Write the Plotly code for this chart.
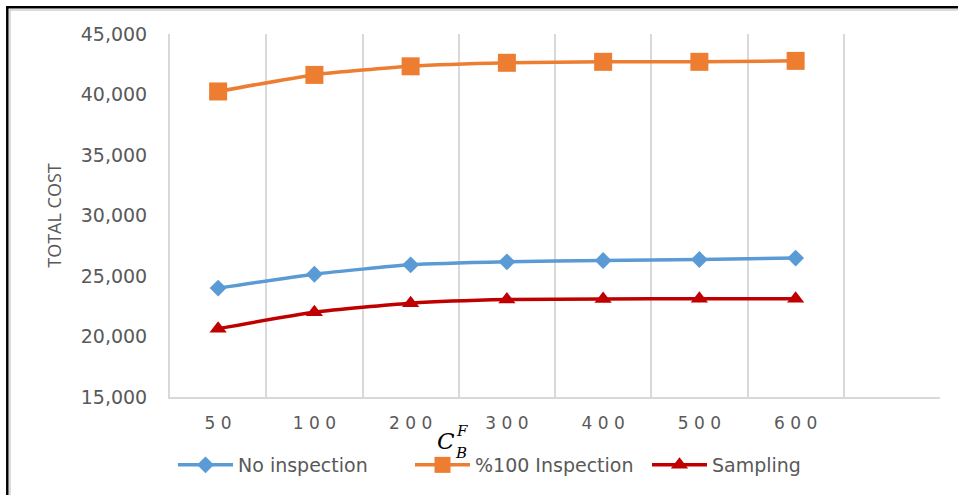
import plotly.graph_objects as go

# Unit failure cost C_B^F on the horizontal axis
cf_values = [50, 100, 200, 300, 400, 500, 600]

# Total cost for each inspection policy
no_inspection = [24000, 25150, 25920, 26170, 26280, 26360, 26480]
full_inspection = [40250, 41620, 42330, 42620, 42700, 42700, 42780]
sampling = [20650, 22000, 22750, 23050, 23100, 23130, 23130]

y_ticks = [15000, 20000, 25000, 30000, 35000, 40000, 45000]

positions = list(range(len(cf_values)))
n_slots = len(cf_values) + 1          # one spare empty slot on the right
tick_text = [" ".join(str(v)) for v in cf_values]

W, H = 958, 495
L, R, T, B = 170, 18, 34, 98
pw, ph = W - L - R, H - T - B


def px_x(px):
    return (px - L) / pw


def px_y(py):
    return (H - B - py) / ph


grey_text = "#595959"
grid = "#d9d9d9"

fig = go.Figure()

series = [
    ("No inspection", no_inspection, "#5B9BD5", "diamond", 13),
    ("%100 Inspection", full_inspection, "#ED7D31", "square", 18),
    ("Sampling", sampling, "#C00000", "triangle-up", 15),
]
for name, vals, color, symbol, size in series:
    fig.add_trace(go.Scatter(
        x=positions, y=vals, name=name, mode="lines+markers",
        line=dict(color=color, width=3.5, shape="spline", smoothing=0.6),
        marker=dict(symbol=symbol, size=size, color=color),
    ))

fig.update_layout(
    width=W, height=H,
    margin=dict(l=L, r=R, t=T, b=B, autoexpand=False),
    paper_bgcolor="white", plot_bgcolor="white",
    showlegend=True,
    legend=dict(
        orientation="h", x=px_x(173), xanchor="left",
        y=px_y(465), yanchor="middle",
        font=dict(family="DejaVu Sans", size=19, color=grey_text),
        itemwidth=55, entrywidth=167, entrywidthmode="pixels",
        tracegroupgap=0,
    ),
    xaxis=dict(
        range=[-0.5, n_slots - 0.5],
        tickmode="array", tickvals=positions, ticktext=tick_text,
        tickfont=dict(family="DejaVu Sans", size=17, color=grey_text),
        ticks="", ticklabelstandoff=10,
        showgrid=False, zeroline=False,
        showline=True, linecolor=grid, linewidth=2,
        minor=dict(
            tickmode="array",
            tickvals=[i - 0.5 for i in range(n_slots + 1)],
            showgrid=True, gridcolor=grid, gridwidth=2, ticks="",
        ),
        fixedrange=True,
    ),
    yaxis=dict(
        range=[15000, 45000],
        tickmode="array", tickvals=y_ticks, tickformat=",d",
        tickfont=dict(family="DejaVu Sans", size=19, color=grey_text),
        ticks="", ticklabelstandoff=17,
        showgrid=False, zeroline=False,
        showline=True, linecolor=grid, linewidth=2,
        title=dict(text="TOTAL COST", standoff=14,
                   font=dict(family="Open Sans", size=18, color=grey_text)),
        fixedrange=True,
    ),
)

# Axis title C_B^F built from a base letter with stacked super/subscript
title_parts = [("<i>C</i>", 446, 441, 23), ("<i>F</i>", 462, 431, 15),
               ("<i>B</i>", 461, 453, 15)]
for txt, cx, cy, fs in title_parts:
    fig.add_annotation(text=txt, xref="paper", yref="paper",
                       x=px_x(cx), y=px_y(cy), xanchor="center",
                       yanchor="middle", showarrow=False,
                       font=dict(family="DejaVu Serif", size=fs,
                                 color="black"))

# Frame around the figure (left and top edges)
fig.add_shape(type="line", xref="paper", yref="paper",
              x0=px_x(7.3), x1=px_x(7.3), y0=px_y(496), y1=px_y(6),
              line=dict(color="black", width=2.5))
fig.add_shape(type="line", xref="paper", yref="paper",
              x0=px_x(6), x1=px_x(960), y0=px_y(7.3), y1=px_y(7.3),
              line=dict(color="black", width=2.5))
fig.add_shape(type="line", xref="paper", yref="paper",
              x0=px_x(10), x1=px_x(10), y0=px_y(496), y1=px_y(9.5),
              line=dict(color="#d0d0d0", width=1.5))
fig.add_shape(type="line", xref="paper", yref="paper",
              x0=px_x(9.5), x1=px_x(960), y0=px_y(10), y1=px_y(10),
              line=dict(color="#d0d0d0", width=1.5))

fig.write_html("out.html")
